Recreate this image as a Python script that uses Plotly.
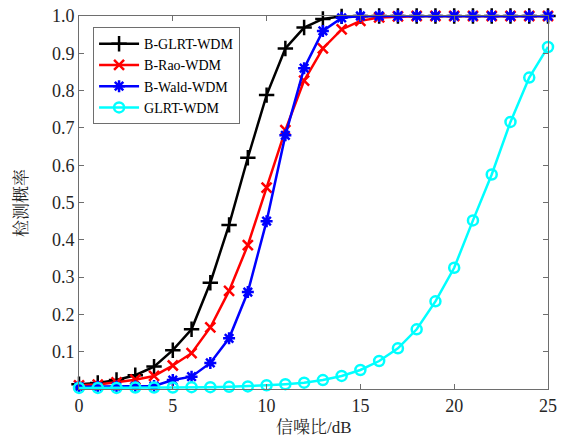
import plotly.graph_objects as go

# ---- data
snr_db = list(range(0, 26))

b_glrt = [0.013, 0.016, 0.024, 0.037, 0.060, 0.104, 0.160, 0.285, 0.440, 0.620,
          0.788, 0.913, 0.969, 0.992, 0.999, 1.0, 1.0, 1.0, 1.0, 1.0,
          1.0, 1.0, 1.0, 1.0, 1.0, 1.0]
b_rao = [0.010, 0.012, 0.018, 0.025, 0.035, 0.063, 0.096, 0.165, 0.263, 0.386,
         0.540, 0.694, 0.827, 0.913, 0.964, 0.987, 0.996, 0.999, 1.0, 1.0,
         1.0, 1.0, 1.0, 1.0, 1.0, 1.0]
b_wald = [0.006, 0.006, 0.006, 0.007, 0.008, 0.024, 0.033, 0.070, 0.136, 0.260,
          0.450, 0.680, 0.860, 0.960, 0.995, 1.0, 1.0, 1.0, 1.0, 1.0,
          1.0, 1.0, 1.0, 1.0, 1.0, 1.0]
glrt = [0.003, 0.003, 0.003, 0.004, 0.004, 0.004, 0.005, 0.005, 0.006, 0.007,
        0.010, 0.013, 0.017, 0.024, 0.035, 0.051, 0.075, 0.109, 0.160, 0.235,
        0.325, 0.452, 0.575, 0.716, 0.835, 0.917]

series_names = ["B-GLRT-WDM", "B-Rao-WDM", "B-Wald-WDM", "GLRT-WDM"]
x_ticks = [0, 5, 10, 15, 20, 25]
y_ticks = [0.1, 0.2, 0.3, 0.4, 0.5, 0.6, 0.7, 0.8, 0.9, 1.0]
x_title = "信噪比/dB"
y_title = "检测概率"

FONT = "'Liberation Serif', 'Noto Serif CJK SC', 'Noto Sans CJK SC', serif"

fig = go.Figure()

# ---- one trace per detector
styles = [
    (b_glrt, "black", "cross-thin-open", 11),
    (b_rao, "red", "x-thin-open", 10),
    (b_wald, "blue", "asterisk-open", 10),
    (glrt, "cyan", "circle-open", 10),
]
for (vals, col, sym, sz), name in zip(styles, series_names):
    fig.add_trace(
        go.Scatter(
            x = snr_db,
            y = vals,
            mode = "lines+markers",
            name = name,
            cliponaxis = False,
            line = dict(color=col, width=2.5),
            marker = dict(symbol=sym, size=sz, color=col,
                          line=dict(color=col, width=2.5)),
        )
    )

axis_common = dict(
    automargin = False,
    showline = True,
    mirror = "ticks",
    linecolor = "#6e6e6e",
    linewidth = 1,
    ticks = "inside",
    ticklen = 5,
    tickcolor = "#6e6e6e",
    showgrid = False,
    zeroline = False,
    ticklabeloverflow = "allow",
    tickfont = dict(family=FONT, size=18, color="#262626"),
)

fig.update_layout(
    width = 566,
    height = 438,
    paper_bgcolor = "white",
    plot_bgcolor = "white",
    font = dict(family=FONT, color="#262626"),
    margin = dict(l=79, r=18, t=16, b=49),
    xaxis = dict(range=[0, 25], tickvals=x_ticks, **axis_common),
    yaxis = dict(range=[0, 1], tickvals=y_ticks, tickformat=".1f", **axis_common),
    legend = dict(
        x = 0.03,
        y = 0.97,
        xanchor = "left",
        yanchor = "top",
        bgcolor = "white",
        bordercolor = "#6e6e6e",
        borderwidth = 1,
        font = dict(family=FONT, size=14, color="black"),
        tracegroupgap = 0,
        itemwidth = 40,
    ),
    showlegend = True,
)

# ---- axis titles
fig.add_annotation(
    text = x_title, xref="paper", yref="paper", x=0.5, y=-0.072,
    xanchor="center", yanchor="top", showarrow=False,
    font = dict(family=FONT, size=17, color="#262626"),
)
fig.add_annotation(
    text = y_title, xref="paper", yref="paper", x=-0.125, y=0.5,
    xanchor="center", yanchor="middle", showarrow=False, textangle=-90,
    font = dict(family=FONT, size=17, color="#262626"),
)

# drop the default page margin so the figure fills the window
fig.write_html(
    "out.html",
    config = {"displayModeBar": False},
    post_script = "document.body.style.margin = '0px';",
)
